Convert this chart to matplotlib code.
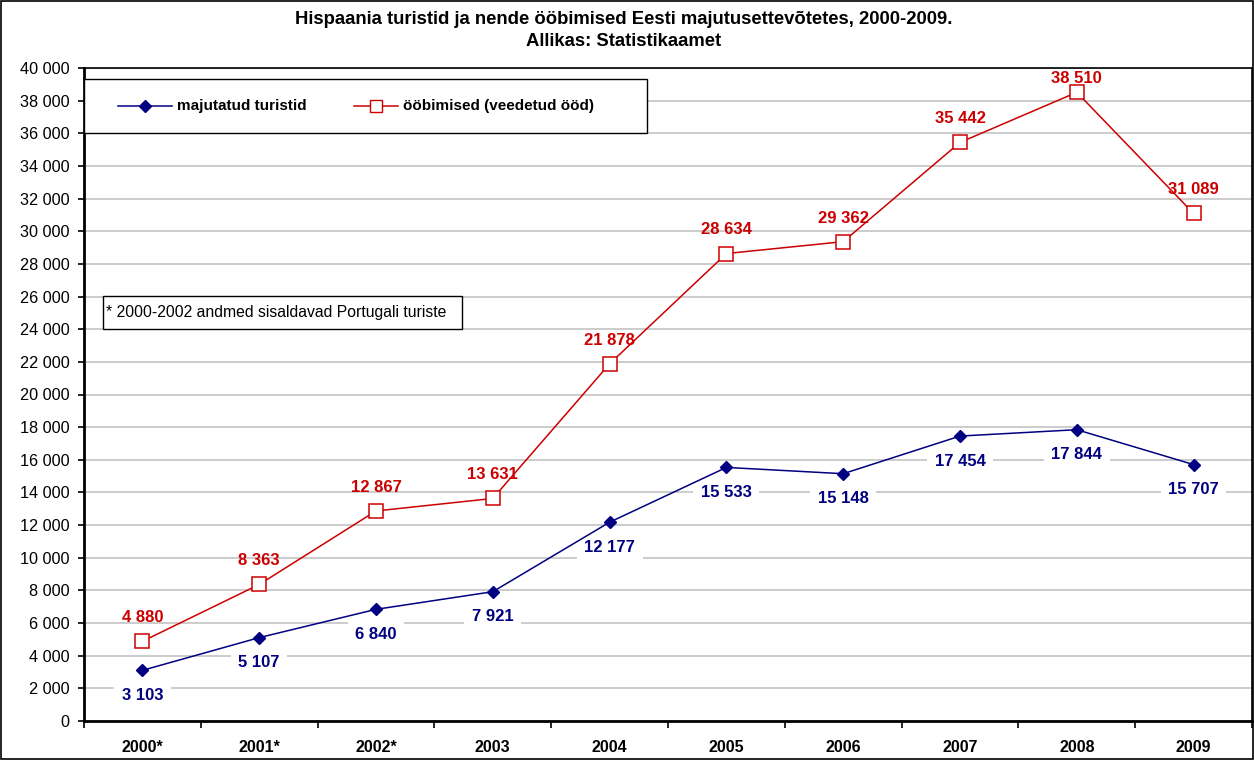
import matplotlib.pyplot as plt
from matplotlib.patches import Rectangle

years = ["2000*", "2001*", "2002*", "2003", "2004", "2005", "2006", "2007", "2008", "2009"]
tourists = [3103, 5107, 6840, 7921, 12177, 15533, 15148, 17454, 17844, 15707]
nights = [4880, 8363, 12867, 13631, 21878, 28634, 29362, 35442, 38510, 31089]

title = "Hispaania turistid ja nende ööbimised Eesti majutusettevõtetes, 2000-2009.\nAllikas: Statistikaamet"
note = "* 2000-2002 andmed sisaldavad Portugali turiste"

plt.rcParams['font.family'] = ['Liberation Sans', 'DejaVu Sans']

BLUE = "#000080"
RED = "#CC0000"


def fmt(v):
    return "{:,}".format(int(v)).replace(",", " ")


fig = plt.figure(figsize=(12.54, 7.6), dpi=100)
ax = fig.add_axes([84 / 1254, 1 - 721 / 760, 1168 / 1254, 653 / 760])

x = list(range(len(years)))
ax.plot(x, tourists, color=BLUE, lw=1.1, marker="D", ms=6.5, mfc=BLUE, mec=BLUE, zorder=3)
ax.plot(x, nights, color=RED, lw=1.1, marker="s", ms=9.5, mfc="white", mec=RED, mew=1.1, zorder=3)

for i in x:
    # white box hides the gridlines behind the label, but stays under the lines
    ax.annotate(fmt(tourists[i]), (i, tourists[i]), xytext=(0, -18), textcoords="offset points",
                ha="center", va="center", color=BLUE, fontsize=12, fontweight="bold",
                bbox=dict(boxstyle="square,pad=0.45", fc="white", ec="none"), zorder=2)
    # keep the top label inside the plot area, as the original does
    dy = 10 if nights[i] > 37000 else 17
    ax.annotate(fmt(nights[i]), (i, nights[i]), xytext=(0, dy), textcoords="offset points",
                ha="center", va="center", color=RED, fontsize=12, fontweight="bold", zorder=4)

ax.set_xlim(-0.5, len(years) - 0.5)
ax.set_ylim(0, 40000)
ax.set_yticks(range(0, 40001, 2000))
ax.set_yticklabels([fmt(v) for v in range(0, 40001, 2000)], fontsize=11.7)
ax.yaxis.grid(True, color="#c4c4c4", lw=1.2, zorder=1)
ax.set_axisbelow(True)

ax.set_xticks([i + 0.5 for i in range(-1, len(years))])
ax.set_xticklabels([])
ax.set_xticks(x, minor=True)
ax.set_xticklabels(years, minor=True, fontsize=11.5, fontweight="bold")
ax.tick_params(axis="x", which="minor", length=0, pad=14)
ax.tick_params(axis="x", which="major", length=5, width=1.2)
ax.tick_params(axis="y", length=4.5, width=1.2, pad=6)

for s in ["left", "bottom"]:
    ax.spines[s].set_linewidth(2)
ax.spines["top"].set_linewidth(1.2)
ax.spines["right"].set_linewidth(1.2)

# legend box
ax.add_patch(Rectangle((0.0, 0.9005), 0.482, 0.0827, transform=ax.transAxes,
                       fc="white", ec="black", lw=1, zorder=5))
ax.plot([0.029, 0.052, 0.075], [0.942] * 3, transform=ax.transAxes, color=BLUE, lw=1.1,
        marker="D", ms=6, markevery=[1], zorder=6)
ax.text(0.080, 0.942, "majutatud turistid", transform=ax.transAxes, fontsize=11,
        fontweight="bold", va="center", zorder=6)
ax.plot([0.231, 0.250, 0.269], [0.942] * 3, transform=ax.transAxes, color=RED, lw=1.1,
        marker="s", ms=8, mfc="white", mec=RED, markevery=[1], zorder=6)
ax.text(0.273, 0.942, "ööbimised (veedetud ööd)", transform=ax.transAxes, fontsize=11,
        fontweight="bold", va="center", zorder=6)

# note box
ax.add_patch(Rectangle((0.0163, 0.600), 0.307, 0.0505, transform=ax.transAxes,
                       fc="white", ec="black", lw=1, zorder=5))
ax.text(0.0163 + 3 / 1168, 0.625, note, transform=ax.transAxes, fontsize=11.3, va="center", zorder=6)

fig.text(0.497, 0.960, title, ha="center", va="center", fontsize=13.3, fontweight="bold",
         linespacing=1.4)

fig.add_artist(Rectangle((0.001, 0.001), 0.998, 0.998, transform=fig.transFigure,
                         fill=False, ec="black", lw=1.2))

plt.savefig("out.png", dpi=100)
